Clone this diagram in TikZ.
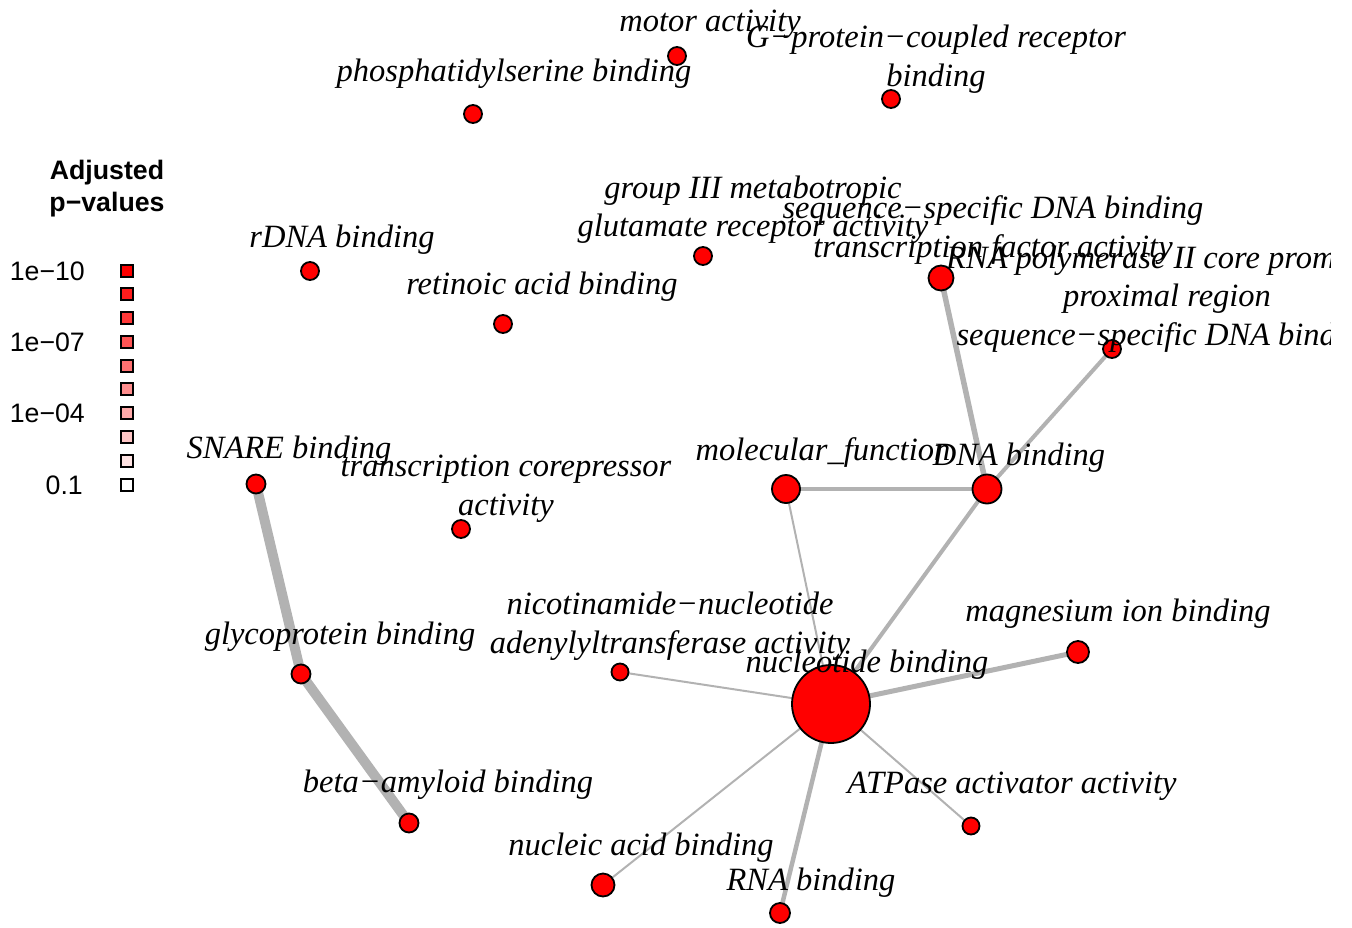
\documentclass[tikz,border=0pt]{standalone}
\usepackage{fontspec}
\usetikzlibrary{backgrounds}
\setmainfont{Liberation Serif}
\newfontfamily\legfont{Liberation Sans}
\newcommand{\lblfont}{\fontsize{32.5}{39}\selectfont\itshape}
\newcommand{\legtxt}{\legfont\fontsize{26.7}{32}\selectfont}
\tikzset{
  gonode/.style={circle, draw=black, fill=red, line width=1.8pt, inner sep=0pt, minimum size=#1},
  golabel/.style={font=\lblfont, anchor=base, inner sep=0pt},
  goedge/.style={draw=black!30, line width=#1},
  legbox/.style={draw=black, line width=1.6pt, minimum size=12.5pt, inner sep=0pt},
  legnum/.style={font=\legtxt, anchor=east, inner sep=0pt},
  legtitle/.style={font=\legtxt\bfseries, anchor=base, inner sep=0pt},
}
\begin{document}
\begin{tikzpicture}[x=1pt,y=-1pt]
\useasboundingbox (0,0) rectangle (1352,927);
% legend
\node[legtitle] (lt1) at (107,179) {Adjusted};
\node[legtitle] (lt2) at (107,211) {p−values};
\foreach \i/\yy in {0/271,1/294,2/318,3/342,4/366,5/389,6/413,7/437,8/461,9/485}{
  \pgfmathsetmacro{\pc}{100-100*\i/9}
  \node[legbox, fill=red!\pc!white] (sq\i) at (127,\yy) {};
}
\node[legnum] (ln1) at (85,271) {1e−10};
\node[legnum] (ln2) at (85,342) {1e−07};
\node[legnum] (ln3) at (85,413) {1e−04};
\node[legnum] (ln4) at (83,485) {0.1};
% nodes
\node[gonode=18pt] (mot) at (677,56) {};
\node[gonode=18pt] (phos) at (473,114) {};
\node[gonode=18pt] (gpcr) at (891,99) {};
\node[gonode=18pt] (rdna) at (310,271) {};
\node[gonode=18pt] (glu) at (703,256) {};
\node[gonode=18pt] (ret) at (503,324) {};
\node[gonode=25pt] (seqtf) at (941,278) {};
\node[gonode=18pt] (rnap) at (1112,349) {};
\node[gonode=19pt] (snare) at (256,484) {};
\node[gonode=18pt] (corep) at (461,529) {};
\node[gonode=28pt] (molf) at (786,489) {};
\node[gonode=29pt] (dnab) at (987,489) {};
\node[gonode=19pt] (glyco) at (301,674) {};
\node[gonode=17pt] (nicot) at (620,672) {};
\node[gonode=22pt] (mag) at (1078,652) {};
\node[gonode=78pt] (nucl) at (831,704) {};
\node[gonode=19pt] (beta) at (409,823) {};
\node[gonode=17pt] (atp) at (971,826) {};
\node[gonode=23pt] (nacid) at (603,885) {};
\node[gonode=20pt] (rnab) at (780,913) {};
% edges (behind nodes)
\begin{pgfonlayer}{background}
\draw[goedge=10pt] (snare.center) -- (glyco.center) -- (beta.center);
\draw[goedge=5.5pt] (seqtf.center) -- (dnab.center);
\draw[goedge=4pt] (rnap.center) -- (dnab.center);
\draw[goedge=4.5pt] (molf.center) -- (dnab.center);
\draw[goedge=2pt] (molf.center) -- (nucl.center);
\draw[goedge=4pt] (dnab.center) -- (nucl.center);
\draw[goedge=5pt] (nucl.center) -- (mag.center);
\draw[goedge=2pt] (nucl.center) -- (nicot.center);
\draw[goedge=2pt] (nucl.center) -- (nacid.center);
\draw[goedge=4.5pt] (nucl.center) -- (rnab.center);
\draw[goedge=2pt] (nucl.center) -- (atp.center);
\end{pgfonlayer}
% labels
\begin{scope}
\clip (0,0) rectangle (1330,927);
\node[golabel] (Lmot) at (710,31) {motor activity};
\node[golabel] (Lphos) at (514,81) {phosphatidylserine binding};
\node[golabel] (Lgpcr1) at (936,47) {G−protein−coupled receptor};
\node[golabel] (Lgpcr2) at (936,86) {binding};
\node[golabel] (Lrdna) at (342,247) {rDNA binding};
\node[golabel] (Lglu1) at (753,198) {group III metabotropic};
\node[golabel] (Lglu2) at (753,236) {glutamate receptor activity};
\node[golabel] (Lret) at (542,294) {retinoic acid binding};
\node[golabel] (Lseq1) at (993,218) {sequence−specific DNA binding};
\node[golabel] (Lseq2) at (993,257) {transcription factor activity};
\node[golabel] (Lrnap1) at (1167,268) {RNA polymerase II core promoter};
\node[golabel] (Lrnap2) at (1167,306) {proximal region};
\node[golabel] (Lrnap3) at (1167,345) {sequence−specific DNA binding};
\node[golabel] (Lsnare) at (289,458) {SNARE binding};
\node[golabel] (Lcorep1) at (506,476) {transcription corepressor};
\node[golabel] (Lcorep2) at (506,515) {activity};
\node[golabel] (Lmolf) at (823,460) {molecular\_function};
\node[golabel] (Ldnab) at (1019,465) {DNA binding};
\node[golabel] (Lglyco) at (340,644) {glycoprotein binding};
\node[golabel] (Lnicot1) at (670,614) {nicotinamide−nucleotide};
\node[golabel] (Lnicot2) at (670,653) {adenylyltransferase activity};
\node[golabel] (Lmag) at (1118,621) {magnesium ion binding};
\node[golabel] (Lnucl) at (867,672) {nucleotide binding};
\node[golabel] (Lbeta) at (448,792) {beta−amyloid binding};
\node[golabel] (Latp) at (1012,793) {ATPase activator activity};
\node[golabel] (Lnacid) at (641,855) {nucleic acid binding};
\node[golabel] (Lrnab) at (811,890) {RNA binding};
\end{scope}
\end{tikzpicture}
\end{document}
